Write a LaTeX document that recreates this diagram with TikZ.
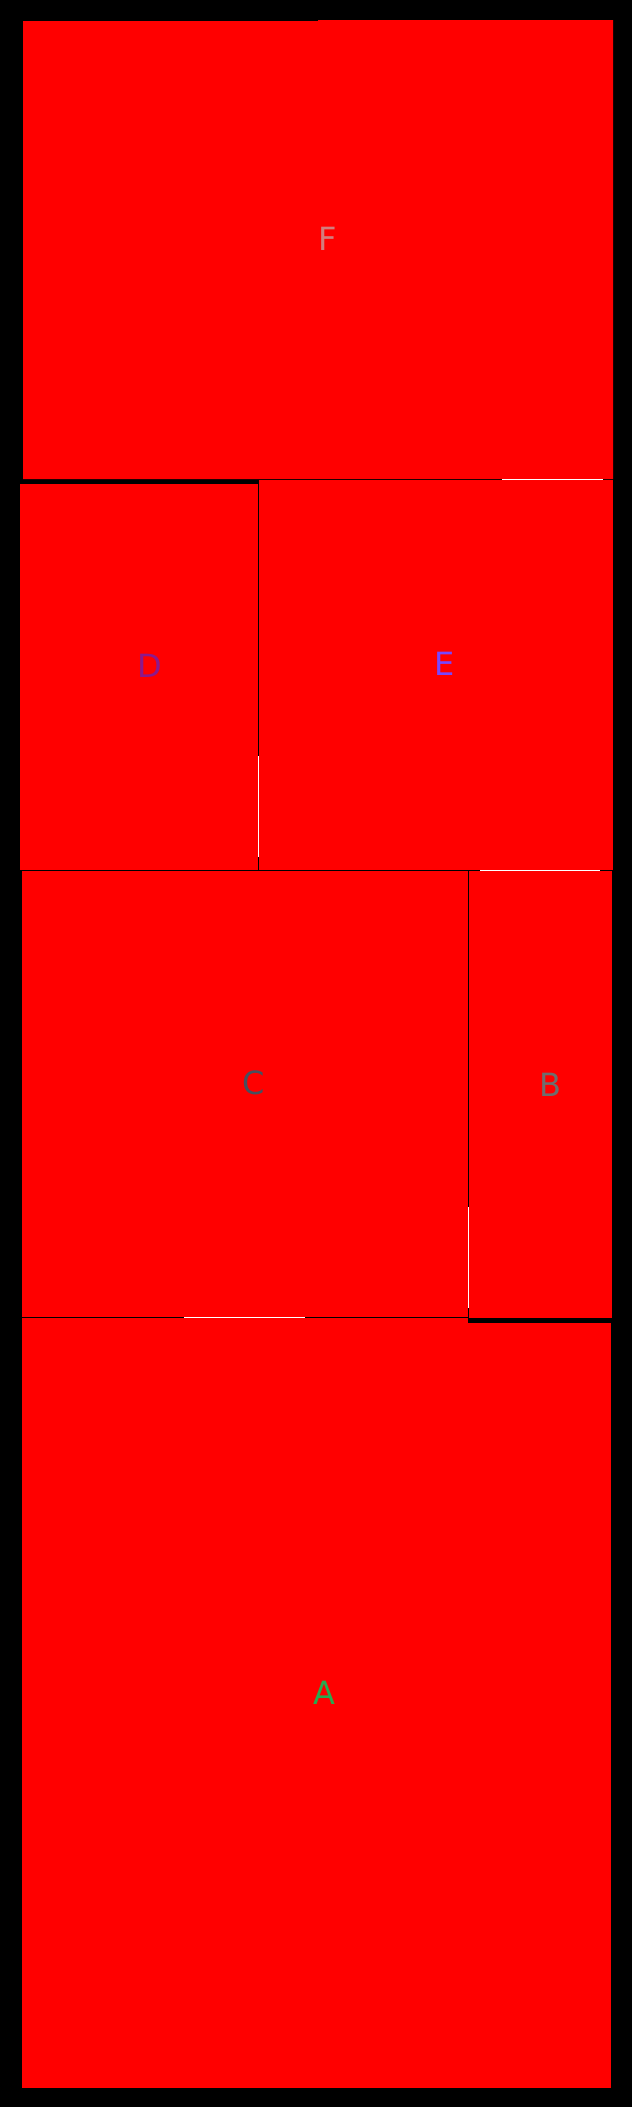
\documentclass[tikz,border=0pt]{standalone}
\usepackage{fontspec}
\setmainfont{DejaVu Sans}
\definecolor{labA}{RGB}{40,170,80}
\definecolor{labB}{RGB}{110,110,110}
\definecolor{labC}{RGB}{70,80,95}
\definecolor{labD}{RGB}{140,25,140}
\definecolor{labE}{RGB}{120,70,255}
\definecolor{labF}{RGB}{210,125,125}

\begin{document}
\begin{tikzpicture}[x=1pt,y=-1pt,
 tile/.style={fill=red},
 seam/.style={draw=white,line width=1.3pt},
 lbl/.style={font=\fontsize{32}{32}\selectfont,inner sep=0pt}]
\fill[black] (0,0) rectangle (632,2107);
\useasboundingbox (0,0) rectangle (632,2107);
% tiles
\fill[tile] (23,21) -- (318,21) -- (318,20) -- (613,20) -- (613,479) -- (23,479) -- cycle;
\fill[tile] (20,484) rectangle (258,870);
\fill[tile] (259,480) rectangle (613,870);
\fill[tile] (22,871) rectangle (468,1317);
\fill[tile] (469,871) rectangle (612,1318);
\fill[tile] (22,1318) rectangle (611,2088);
\fill[black] (468,1318) rectangle (612,1323);
% white seams
\draw[seam] (502,479.5) -- (603,479.5);
\draw[seam] (258.5,756) -- (258.5,857);
\draw[seam] (480,870.5) -- (600,870.5);
\draw[seam] (184,1317.5) -- (305,1317.5);
\draw[seam] (468.5,1207) -- (468.5,1308);
% labels
\node[lbl,text=labF] (F) at (328,239) {F};
\node[lbl,text=labD] (D) at (150,666) {D};
\node[lbl,text=labE] (E) at (445,664) {E};
\node[lbl,text=labC] (C) at (254,1083) {C};
\node[lbl,text=labB] (B) at (550,1085) {B};
\node[lbl,text=labA] (A) at (324,1693) {A};
\end{tikzpicture}
\end{document}
